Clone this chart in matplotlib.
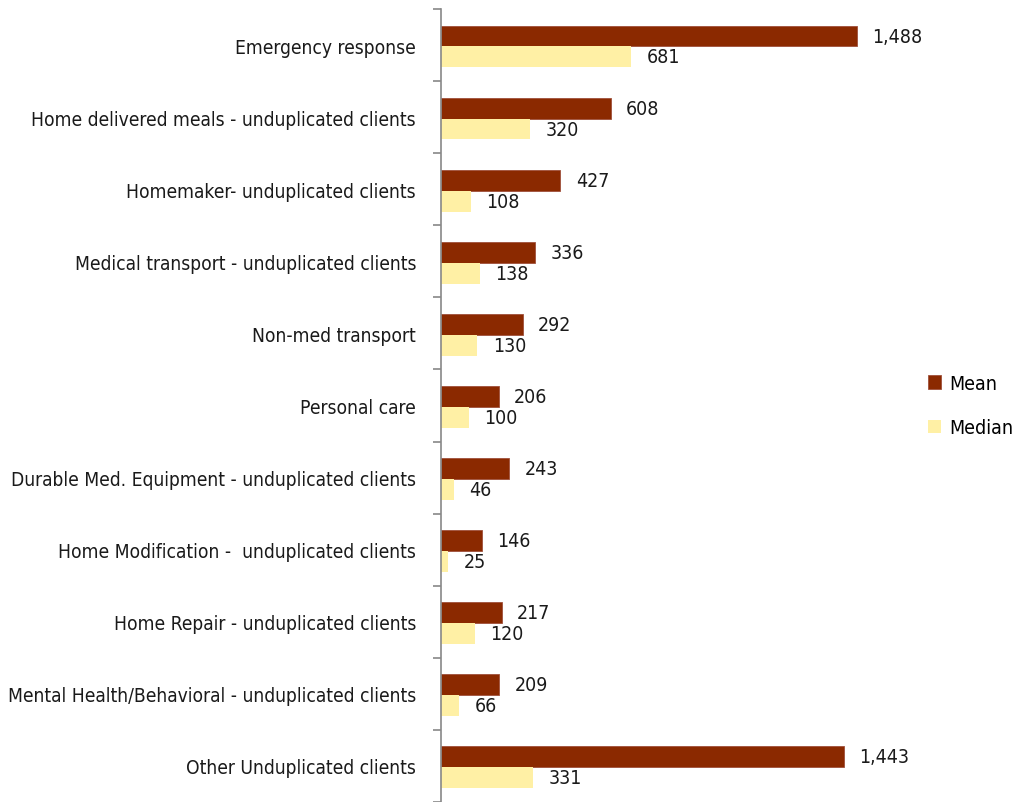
import matplotlib.pyplot as plt
import numpy as np

categories = [
    'Emergency response',
    'Home delivered meals - unduplicated clients',
    'Homemaker- unduplicated clients',
    'Medical transport - unduplicated clients',
    'Non-med transport',
    'Personal care',
    'Durable Med. Equipment - unduplicated clients',
    'Home Modification -  unduplicated clients',
    'Home Repair - unduplicated clients',
    'Mental Health/Behavioral - unduplicated clients',
    'Other Unduplicated clients',
]
mean_vals = [1488, 608, 427, 336, 292, 206, 243, 146, 217, 209, 1443]
median_vals = [681, 320, 108, 138, 130, 100, 46, 25, 120, 66, 331]

plt.rcParams['font.family'] = ['DejaVu Sans']
plt.rcParams['font.stretch'] = 'condensed'

fig = plt.figure(figsize=(10.13, 8.03), dpi=100)
ax = fig.add_axes([441 / 1013, 0.0, 447 / 1013, 793 / 803])

n = len(categories)
y = np.arange(n)
h = 0.29
ax.barh(y - h / 2 + 0.02, mean_vals, height=h, color='#8B2900', edgecolor='#A0503A', linewidth=0.6, label='Mean')
ax.barh(y + h / 2 + 0.02, median_vals, height=h, color='#FFF0A5', label='Median')

fs = 14
for i in range(n):
    ax.text(mean_vals[i] + 55, y[i] - h / 2 + 0.02, f'{mean_vals[i]:,}', va='center', ha='left', fontsize=fs, color='#1a1a1a')
    ax.text(median_vals[i] + 55, y[i] + h / 2 + 0.02, f'{median_vals[i]:,}', va='center', ha='left', fontsize=fs, color='#1a1a1a')

ax.set_xlim(0, 1600)
ax.set_ylim(n - 0.5, -0.5)
ax.set_yticks(y)
ax.set_yticklabels(categories, fontsize=13.8, color='#1a1a1a')
ax.set_yticks(np.arange(n + 1) - 0.5, minor=True)
ax.tick_params(axis='y', which='major', length=0, pad=18)
ax.tick_params(axis='y', which='minor', length=6, color='#888888', width=1.2)
ax.set_xticks([])
for s in ['top', 'right', 'bottom']:
    ax.spines[s].set_visible(False)
ax.spines['left'].set_color('#888888')
ax.spines['left'].set_linewidth(1.2)

ax.legend(loc='center left', bbox_to_anchor=(1.05, 0.5), frameon=False, fontsize=fs,
          handlelength=0.7, handleheight=0.7, handletextpad=0.4, labelspacing=1.3)

fig.savefig('out.png', dpi=100)
